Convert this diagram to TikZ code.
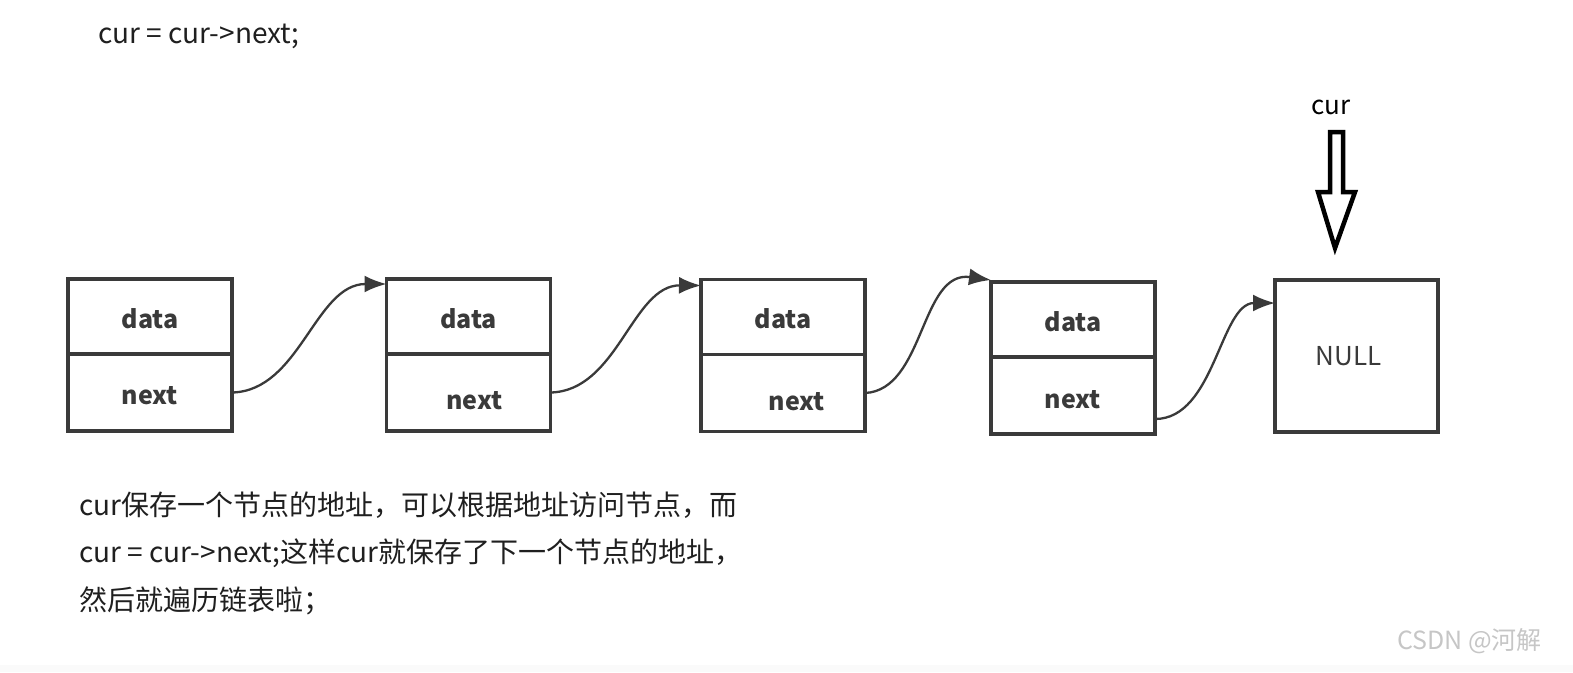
\documentclass[tikz,border=0pt]{standalone}
\usepackage{fontspec}
\setmainfont{Noto Sans CJK SC}
\usetikzlibrary{calc,arrows.meta}
\definecolor{boxline}{HTML}{3A3A3A}
\tikzset{
  part/.style={draw=boxline, line width=3.5pt, outer sep=0pt, minimum width=164pt, inner sep=0pt, font=\fontsize{25}{28}\selectfont\bfseries, text=boxline},
  datapart/.style={part, minimum height=75pt},
  nextpart/.style={part, minimum height=77pt},
  link/.style={draw=boxline, line width=2.3pt, -{Latex[length=22pt,width=17pt]}},
  plain/.style={inner sep=0pt, anchor=west, font=\fontsize{28}{32}\selectfont, text=black!88}
}
% #1 = twice the downward shift of the text within its node
\newcommand{\lowered}[2]{\raisebox{0pt}[\dimexpr\height+#1\relax][\depth]{#2}}
\begin{document}
\begin{tikzpicture}[x=1pt,y=-1pt]
\useasboundingbox (0,0) rectangle (1573,672);
\fill[gray!4] (0,665) rectangle (1573,672);
% top code line
\node[plain] (code) at (98,36) {cur = cur->next;};
% list nodes
\node[datapart] (d1) at (150,316.5) {\lowered{4pt}{data}};
\node[nextpart, anchor=north] (n1) at (d1.south) {\lowered{6pt}{next}};
\node[datapart] (d2) at (468.5,316.5) {\lowered{4pt}{data}};
\node[nextpart, anchor=north] (n2) at (d2.south) {\hspace*{12pt}\lowered{16pt}{next}};
\node[datapart] (d3) at (783,317) {\lowered{4pt}{data}};
\node[nextpart, anchor=north] (n3) at (d3.south) {\hspace*{28pt}\lowered{18pt}{next}};
\node[datapart] (d4) at (1073,319.5) {\lowered{4pt}{data}};
\node[nextpart, anchor=north] (n4) at (d4.south) {\lowered{8pt}{next}};
\node[part, minimum width=163pt, minimum height=152pt, font=\fontsize{26}{28}\selectfont] (null) at (1356.5,356) {NULL\hspace*{16pt}};
% links
\draw[link] (n1.east) .. controls (300,391) and (315,284) .. ($(d2.north west)+(0,5)$);
\draw[link] (n2.east) .. controls (618,391) and (632,285) .. ($(d3.north west)+(0,6)$);
\draw[link] (n3.east) .. controls (925,390) and (920,270) .. ($(d4.north west)+(0,-2)$);
\draw[link] ($(n4.south east)+(0,-15)$) .. controls (1215,419) and (1220,303) .. ($(null.north west)+(0,23)$);
% cur pointer
\node[font=\fontsize{26}{28}\selectfont, inner sep=0pt] (cur) at (1331,107) {cur};
\coordinate (tip) at (1335,248);
\draw[line width=4.5pt, line join=miter, fill=white] (1330,132) -- (1343,132) -- (1343,192) -- (1355,192) -- (tip) -- (1318,192) -- (1330,192) -- cycle;
% explanation
\node[plain] (l1) at (79,505) {cur保存一个节点的地址，可以根据地址访问节点，而};
\node[plain] (l2) at (79,553) {cur = cur->next;这样cur就保存了下一个节点的地址，};
\node[plain] (l3) at (79,601) {然后就遍历链表啦；};
% watermark
\node[plain, font=\fontsize{25}{28}\selectfont, text=gray!45, anchor=east] (wm) at (1542,641) {CSDN @河解};
\end{tikzpicture}
\end{document}
